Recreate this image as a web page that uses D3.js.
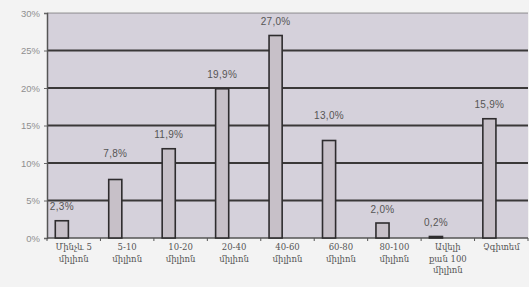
<!DOCTYPE html>
<html>
<head>
<meta charset="utf-8">
<script src="https://cdn.jsdelivr.net/npm/d3@7"></script>
<style>
  body { margin: 0; background: #f3f3f3; }
  svg { display: block; }
  .tick text { font-family: "Liberation Sans", Arial, sans-serif; }
</style>
</head>
<body>
<div id="chart"></div>
<script>
var categories = [
    ["Մինչև 5", "միլիոն"],
    ["5-10", "միլիոն"],
    ["10-20", "միլիոն"],
    ["20-40", "միլիոն"],
    ["40-60", "միլիոն"],
    ["60-80", "միլիոն"],
    ["80-100", "միլիոն"],
    ["Ավելի", "քան 100", "միլիոն"],
    ["Չգիտեմ"]
];
var values = [2.3, 7.8, 11.9, 19.9, 27.0, 13.0, 2.0, 0.2, 15.9];
var valueLabels = ["2,3%", "7,8%", "11,9%", "19,9%", "27,0%", "13,0%", "2,0%", "0,2%", "15,9%"];
var yTicks = [0, 5, 10, 15, 20, 25, 30];

(function() {
    var width = 529;
    var height = 287;
    var margin = { left: 47, right: 1, top: 13, bottom: 49 };

    var svg = d3.select('#chart').append('svg')
        .attr('width', width)
        .attr('height', height);

    svg.append('rect')
        .attr('width', width).attr('height', height)
        .style('fill', '#f3f3f3');

    var idx = d3.range(categories.length);
    var x = d3.scaleBand()
        .domain(idx)
        .range([margin.left, width - margin.right]);
    var y = d3.scaleLinear()
        .domain([0, 30])
        .range([height - margin.bottom, margin.top]);

    // plot area
    svg.append('rect')
        .attr('x', x.range()[0])
        .attr('y', y(30))
        .attr('width', x.range()[1] - x.range()[0])
        .attr('height', y(0) - y(30))
        .style('fill', '#d5d1db');

    // gridlines
    svg.selectAll('.grid')
        .data(yTicks.filter(function(d) { return d > 0; }))
        .enter()
        .append('line')
        .attr('class', 'grid')
        .attr('x1', x.range()[0])
        .attr('x2', x.range()[1])
        .attr('y1', function(d) { return y(d); })
        .attr('y2', function(d) { return y(d); })
        .style('stroke', '#3a3838')
        .style('stroke-width', function(d) { return d === 30 ? 1 : 2; })
        .style('opacity', function(d) { return d === 30 ? 0.5 : 1; });

    // y axis
    var yAxis = svg.append('g')
        .attr('transform', 'translate(' + margin.left + ',0)')
        .call(d3.axisLeft(y).tickValues(yTicks).tickSize(3).tickPadding(4)
            .tickFormat(function(d) { return d + '%'; }));
    yAxis.select('.domain').style('stroke', '#555').style('stroke-width', 1.5);
    yAxis.selectAll('.tick line').style('stroke', '#666');
    yAxis.selectAll('.tick text')
        .style('font-size', '9.5px')
        .style('fill', '#8f8f8f');

    // x axis
    var xAxis = svg.append('g')
        .attr('transform', 'translate(0,' + y(0) + ')');
    xAxis.append('line')
        .attr('x1', x.range()[0]).attr('x2', x.range()[1])
        .style('stroke', '#555').style('stroke-width', 1.5);
    xAxis.selectAll('.xt')
        .data(idx.concat([categories.length]))
        .enter()
        .append('line')
        .attr('x1', function(d) { return x.range()[0] + d * x.step(); })
        .attr('x2', function(d) { return x.range()[0] + d * x.step(); })
        .attr('y1', 0).attr('y2', 3)
        .style('stroke', '#555');

    var catText = xAxis.selectAll('.cat')
        .data(categories)
        .enter()
        .append('text')
        .attr('class', 'cat')
        .attr('x', function(d, i) { return x(i) + x.bandwidth() / 2; })
        .attr('y', 12)
        .attr('text-anchor', 'middle')
        .style('font-family', '"DejaVu Serif", serif')
        .style('font-size', '8.5px')
        .style('fill', '#555');
    catText.selectAll('tspan')
        .data(function(d) { return d; })
        .enter()
        .append('tspan')
        .attr('x', function() { return d3.select(this.parentNode).attr('x'); })
        .attr('dy', function(d, i) { return i === 0 ? 0 : 11.5; })
        .text(function(d) { return d; });

    // bars
    var barOff = x.bandwidth() * 0.155;
    var barW = x.bandwidth() * 0.245;
    svg.selectAll('.bar')
        .data(values)
        .enter()
        .append('rect')
        .attr('class', 'bar')
        .attr('x', function(d, i) { return x(i) + barOff; })
        .attr('y', function(d) { return y(d); })
        .attr('width', barW)
        .attr('height', function(d) { return y(0) - y(d); })
        .style('fill', '#c7c0c8')
        .style('stroke', '#2e2c2e')
        .style('stroke-width', 1.6);

    // value labels, nudged above a gridline when they would sit on it
    function labelY(d) {
        var ly = y(d) - 14;
        yTicks.forEach(function(t) {
            if (Math.abs(y(t) - ly) < 3) ly = y(t) - 10;
        });
        return ly + 3.5;
    }
    svg.selectAll('.val')
        .data(values)
        .enter()
        .append('text')
        .attr('class', 'val')
        .attr('x', function(d, i) { return x(i) + barOff + barW / 2; })
        .attr('y', labelY)
        .attr('text-anchor', 'middle')
        .style('font-family', '"Liberation Sans", Arial, sans-serif')
        .style('font-size', '10px')
        .style('letter-spacing', '0.3px')
        .style('fill', '#555')
        .text(function(d, i) { return valueLabels[i]; });
})();
</script>
</body>
</html>
